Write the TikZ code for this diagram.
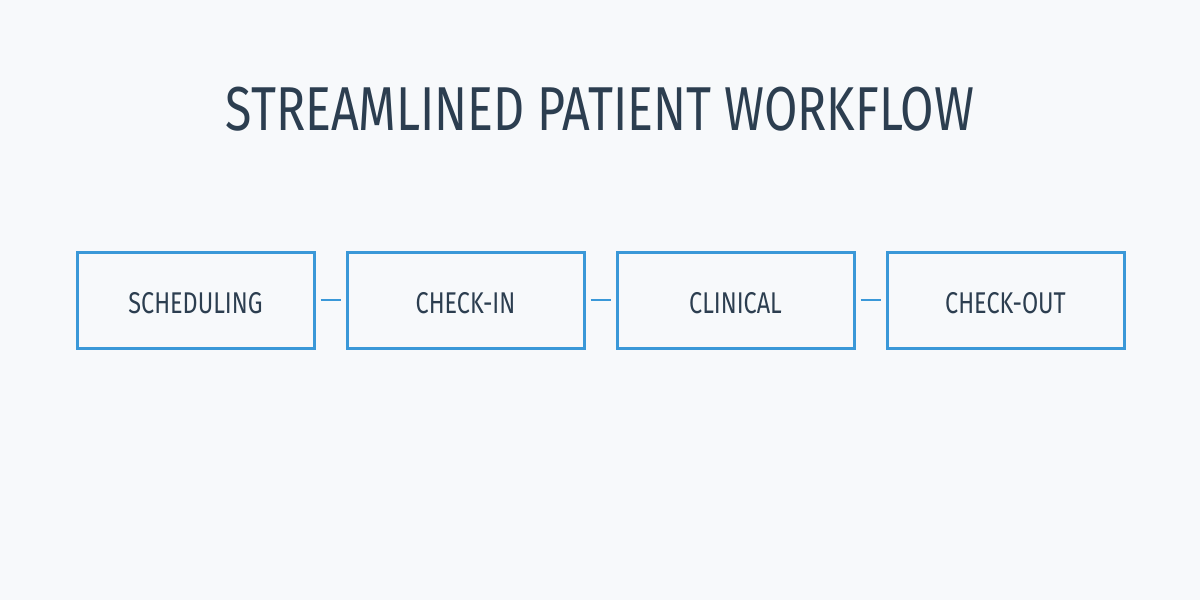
\documentclass[tikz,border=0pt]{standalone}
\usepackage{fontspec}
\setmainfont{Fira Sans}[FakeStretch=0.78]
\definecolor{bg}{HTML}{F7F9FB}
\definecolor{tx}{HTML}{2C3E50}
\definecolor{bl}{HTML}{3A98D8}
\begin{document}
\begin{tikzpicture}[x=1pt,y=-1pt,
  box/.style={draw=bl,line width=3pt,minimum width=237pt,minimum height=96pt,inner sep=0pt},
  lbl/.style={text=tx,font=\fontsize{30}{34}\selectfont},
  conn/.style={draw=bl,line width=2.5pt,shorten <=5pt,shorten >=5pt}]
\fill[bg] (0,0) rectangle (1200,600);
\useasboundingbox (0,0) rectangle (1200,600);
\node[text=tx,font=\fontsize{62}{70}\selectfont] (title) at (600,109) {STREAMLINED PATIENT WORKFLOW};
\node[box] (a) at (195.5,300) {};
\node[box] (b) at (465.5,300) {};
\node[box] (c) at (735.5,300) {};
\node[box] (d) at (1005.5,300) {};
\node[lbl] (ta) at (195.5,303) {SCHEDULING};
\node[lbl] (tb) at (465.5,303) {CHECK-IN};
\node[lbl] (tc) at (735.5,303) {CLINICAL};
\node[lbl] (td) at (1005.5,303) {CHECK-OUT};
\draw[conn] (a) -- (b);
\draw[conn] (b) -- (c);
\draw[conn] (c) -- (d);
\end{tikzpicture}
\end{document}
